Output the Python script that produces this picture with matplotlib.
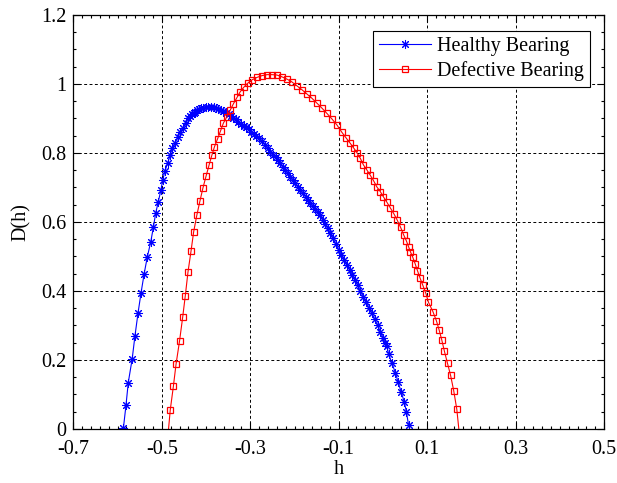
import numpy as np
import matplotlib
matplotlib.use("Agg")
import matplotlib.pyplot as plt
from matplotlib.ticker import MultipleLocator

# values
healthy_h = [-0.587, -0.581, -0.576, -0.567, -0.561, -0.554, -0.547, -0.540, -0.533, -0.525,
             -0.519, -0.514, -0.508, -0.502, -0.498, -0.493, -0.487, -0.481, -0.476, -0.470,
             -0.464, -0.459, -0.452, -0.446, -0.440, -0.436, -0.432, -0.428, -0.425, -0.420,
             -0.416, -0.411, -0.406, -0.400, -0.395, -0.389, -0.383, -0.378, -0.372, -0.366,
             -0.361, -0.355, -0.349, -0.344, -0.338, -0.333, -0.327, -0.321, -0.315, -0.310,
             -0.304, -0.298, -0.292, -0.286, -0.280, -0.274, -0.267, -0.261, -0.255, -0.249,
             -0.243, -0.238, -0.232, -0.227, -0.221, -0.215, -0.210, -0.204, -0.198, -0.193,
             -0.187, -0.181, -0.175, -0.170, -0.164, -0.158, -0.153, -0.147, -0.142, -0.136,
             -0.130, -0.125, -0.119, -0.113, -0.107, -0.100, -0.094, -0.087, -0.081, -0.075,
             -0.069, -0.063, -0.057, -0.051, -0.044, -0.038, -0.032, -0.025, -0.019, -0.012,
             -0.006, 0.000, 0.005, 0.009, 0.013, 0.020, 0.028, 0.034, 0.041, 0.048,
             0.053, 0.058]
healthy_D = [0.002, 0.070, 0.134, 0.204, 0.268, 0.335, 0.395, 0.450, 0.498, 0.543,
             0.586, 0.625, 0.659, 0.693, 0.722, 0.748, 0.770, 0.794, 0.814, 0.830,
             0.846, 0.860, 0.873, 0.888, 0.900, 0.906, 0.912, 0.916, 0.920, 0.924,
             0.927, 0.929, 0.931, 0.933, 0.934, 0.933, 0.932, 0.930, 0.928, 0.925,
             0.922, 0.917, 0.912, 0.907, 0.902, 0.897, 0.891, 0.885, 0.879, 0.874,
             0.869, 0.862, 0.856, 0.849, 0.842, 0.834, 0.824, 0.815, 0.804, 0.795,
             0.787, 0.779, 0.770, 0.760, 0.751, 0.741, 0.731, 0.722, 0.712, 0.702,
             0.693, 0.683, 0.673, 0.664, 0.654, 0.645, 0.637, 0.628, 0.620, 0.607,
             0.594, 0.581, 0.567, 0.552, 0.537, 0.519, 0.505, 0.490, 0.475, 0.461,
             0.447, 0.432, 0.416, 0.400, 0.383, 0.367, 0.351, 0.335, 0.318, 0.300,
             0.282, 0.264, 0.250, 0.239, 0.216, 0.192, 0.163, 0.137, 0.108, 0.079,
             0.050, 0.010]

# first and last points sit just under D=0 (clipped, as in the picture)
defective_h = [-0.487, -0.481, -0.474, -0.468, -0.460, -0.453, -0.447, -0.441, -0.434, -0.428,
               -0.421, -0.414, -0.407, -0.400, -0.393, -0.387, -0.381, -0.374, -0.367, -0.361,
               -0.353, -0.345, -0.338, -0.330, -0.323, -0.315, -0.306, -0.296, -0.285, -0.274,
               -0.262, -0.251, -0.240, -0.229, -0.217, -0.206, -0.195, -0.183, -0.172, -0.161,
               -0.149, -0.138, -0.127, -0.115, -0.104, -0.093, -0.083, -0.074, -0.066, -0.059,
               -0.051, -0.044, -0.036, -0.029, -0.021, -0.014, -0.006, 0.001, 0.009, 0.017,
               0.025, 0.032, 0.040, 0.047, 0.053, 0.058, 0.062, 0.067, 0.073, 0.078,
               0.084, 0.090, 0.097, 0.103, 0.113, 0.121, 0.127, 0.133, 0.139, 0.146,
               0.153, 0.160, 0.167, 0.174]
defective_D = [-0.030, 0.055, 0.123, 0.187, 0.255, 0.323, 0.386, 0.454, 0.516, 0.572,
               0.619, 0.660, 0.699, 0.733, 0.766, 0.793, 0.818, 0.841, 0.865, 0.886,
               0.905, 0.925, 0.943, 0.961, 0.977, 0.990, 1.002, 1.012, 1.019, 1.024,
               1.027, 1.027, 1.026, 1.021, 1.014, 1.006, 0.995, 0.983, 0.971, 0.959,
               0.944, 0.930, 0.915, 0.898, 0.881, 0.860, 0.843, 0.828, 0.814, 0.801,
               0.784, 0.765, 0.750, 0.736, 0.719, 0.702, 0.688, 0.673, 0.657, 0.640,
               0.623, 0.606, 0.584, 0.562, 0.545, 0.528, 0.514, 0.499, 0.478, 0.459,
               0.437, 0.417, 0.393, 0.367, 0.340, 0.313, 0.287, 0.258, 0.225, 0.190,
               0.155, 0.111, 0.057, -0.030]

x_ticks = [-0.7, -0.5, -0.3, -0.1, 0.1, 0.3, 0.5]
x_ticklabels = ['-0.7', '-0.5', '-0.3', '-0.1', '0.1', '0.3', '0.5']
y_ticks = [0, 0.2, 0.4, 0.6, 0.8, 1.0, 1.2]
y_ticklabels = ['0', '0.2', '0.4', '0.6', '0.8', '1', '1.2']

plt.rcParams['font.family'] = ['Liberation Serif', 'DejaVu Serif']
fs = 14.5

fig = plt.figure(figsize=(6.17, 4.83), dpi=100)
ax = fig.add_axes([0.119, 0.112, 0.860, 0.857])

ax.plot(healthy_h, healthy_D, color='blue', lw=0.8, marker=(8, 2, 0), ms=6.5,
        mew=0.75, label='Healthy Bearing')
ax.plot(defective_h, defective_D, color='red', lw=0.8, marker='s', ms=5,
        mfc='none', mew=0.9, label='Defective Bearing')

ax.set_xlim(-0.7, 0.5)
ax.set_ylim(0, 1.2)
ax.set_xticks(x_ticks)
ax.set_xticklabels(x_ticklabels)
ax.set_yticks(y_ticks)
ax.set_yticklabels(y_ticklabels)
ax.xaxis.set_minor_locator(MultipleLocator(0.02))
ax.yaxis.set_minor_locator(MultipleLocator(0.05))
ax.tick_params(which='both', direction='in', top=True, right=True, labelsize=fs, width=0.8)
ax.tick_params(which='major', length=5)
ax.tick_params(axis='x', which='major', pad=8)
ax.tick_params(axis='y', which='major', pad=5)
ax.tick_params(which='minor', length=2.5)
ax.grid(True, which='major', color='black', linestyle=(0, (3, 2.5)), linewidth=0.7)
for s in ax.spines.values():
    s.set_linewidth(0.9)

ax.set_xlabel('h', fontsize=fs, labelpad=1)
ax.set_ylabel('D(h)', fontsize=fs, labelpad=7)

leg = ax.legend(loc='upper right', fontsize=fs, fancybox=False, framealpha=1,
                edgecolor='black', handlelength=2.6, borderpad=0.3, labelspacing=0.25,
                handletextpad=0.3, borderaxespad=0, bbox_to_anchor=(0.974, 0.961))
leg.get_frame().set_linewidth(0.8)

fig.savefig('out.png', dpi=100)
